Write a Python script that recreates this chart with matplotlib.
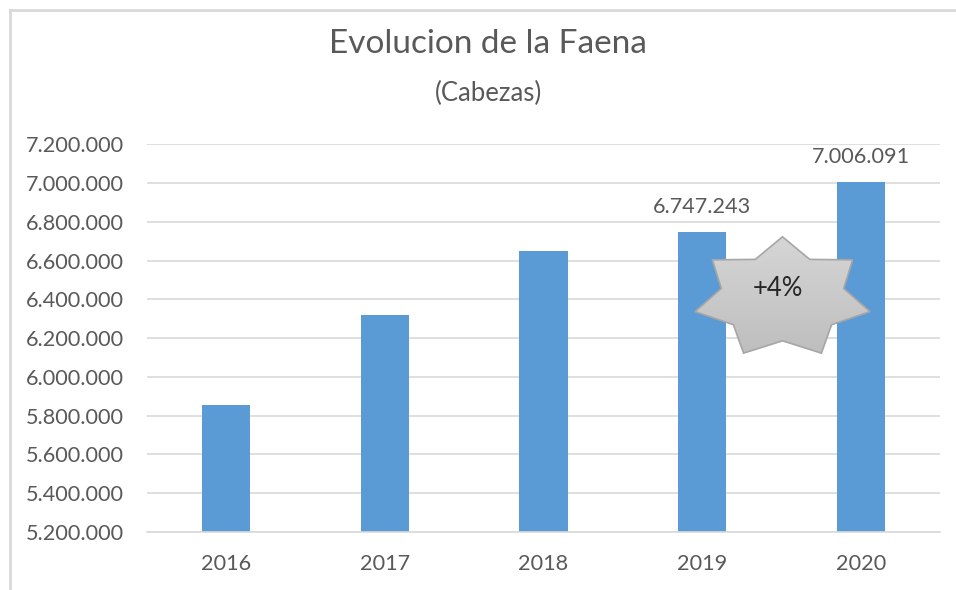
import numpy as np
import matplotlib.pyplot as plt
from matplotlib.patches import Polygon
from matplotlib.lines import Line2D
from matplotlib.colors import LinearSegmentedColormap

plt.rcParams['font.family'] = ['Lato', 'DejaVu Sans']

years = ['2016', '2017', '2018', '2019', '2020']
faena = [5856000, 6321000, 6652000, 6747243, 7006091]
labelled = {3: '6.747.243', 4: '7.006.091'}
yticks = list(range(5200000, 7200001, 200000))

text_col = '#595959'
bar_col = '#5B9BD5'
grid_col = '#D9D9D9'


def dotted(v):
    return '{:,}'.format(int(v)).replace(',', '.')


fig = plt.figure(figsize=(9.56, 5.9), dpi=100)
ax = fig.add_axes([147 / 956, 1 - 532 / 590, (940 - 147) / 956, (532 - 144.3) / 590])

x = np.arange(len(years))
ax.bar(x, faena, width=0.305, color=bar_col, zorder=2)
ax.set_xlim(-0.5, len(years) - 0.5)
ax.set_ylim(yticks[0], yticks[-1])
ax.set_yticks(yticks)
ax.set_yticklabels([dotted(v) for v in yticks])
ax.set_xticks(x)
ax.set_xticklabels(years)
ax.yaxis.grid(True, color=grid_col, linewidth=1.2, zorder=0)
ax.set_axisbelow(True)
for s in ['top', 'right', 'left']:
    ax.spines[s].set_visible(False)
ax.spines['bottom'].set_color(grid_col)
ax.spines['bottom'].set_linewidth(1.2)
ax.tick_params(axis='both', length=0, labelsize=15.6, colors=text_col)
ax.tick_params(axis='y', pad=16.5)
ax.tick_params(axis='x', pad=16)

for i, lab in labelled.items():
    ax.annotate(lab, (x[i], faena[i]), xytext=(0, 18), textcoords='offset points',
                ha='center', va='center', fontsize=15.6, color=text_col)

fig.text(488 / 956, 1 - 44 / 590, 'Evolucion de la Faena', ha='center', va='center',
         fontsize=24, color=text_col)
fig.text(488 / 956, 1 - 93 / 590, '(Cabezas)', ha='center', va='center',
         fontsize=18.5, color=text_col)

# overlay in pixel coordinates for the chart border and the star
ov = fig.add_axes([0, 0, 1, 1], zorder=5)
ov.axis('off')
ov.patch.set_alpha(0)
ov.add_line(Line2D([10, 10], [10, 590], color=grid_col, linewidth=2))
ov.add_line(Line2D([10, 956], [10, 10], color=grid_col, linewidth=2))

cx, cy, rx, ry, inner = 782.5, 298, 89.7, 61.2, 0.7
ang = np.deg2rad(90 - np.arange(14) * 180 / 7)
rad = np.where(np.arange(14) % 2 == 0, 1.0, inner)
pts = np.column_stack([cx + rx * rad * np.cos(ang), cy - ry * rad * np.sin(ang)])
star = Polygon(pts, closed=True, facecolor='none', edgecolor='#A6A6A6', linewidth=1.2, zorder=6)
ov.add_patch(star)
grad = np.linspace(0, 1, 100).reshape(-1, 1)
im = ov.imshow(grad, cmap=LinearSegmentedColormap.from_list('g', ['#D6D6D6', '#BDBDBD']),
               extent=[cx - rx, cx + rx, cy + ry, cy - ry], aspect='auto', zorder=5)
im.set_clip_path(star)
ov.set_xlim(0, 956)
ov.set_ylim(590, 0)
ov.text(cx - 5, cy - 10, '+4%', ha='center', va='center', fontsize=18.5, color='#262626', zorder=7)

fig.savefig('out.png', dpi=100)
